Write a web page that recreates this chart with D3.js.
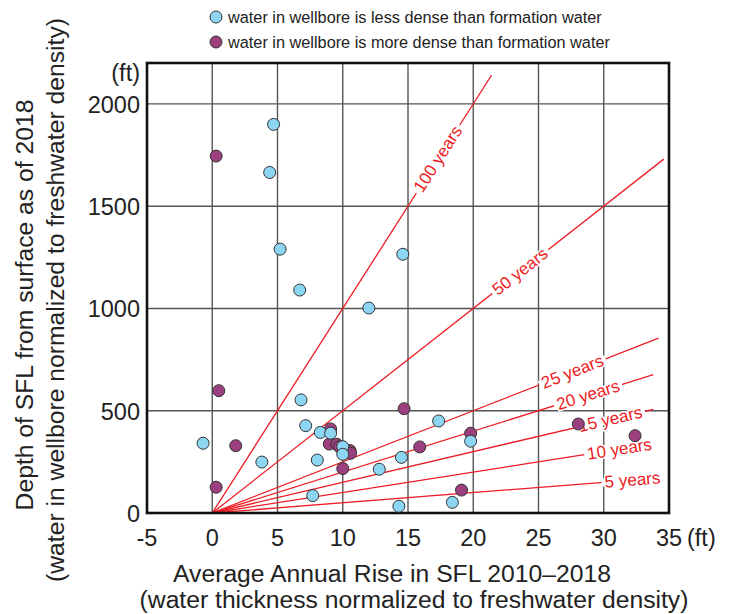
<!DOCTYPE html>
<html>
<head>
<meta charset="utf-8">
<script src="https://cdn.jsdelivr.net/npm/d3@7"></script>
<style>
  body { margin: 0; background: #fff; }
  svg { display: block; font-family: "Liberation Sans", Arial, sans-serif; }
</style>
</head>
<body>
<svg id="chart" width="729" height="614"></svg>
<script>
// ---- data ----
const lessDenseX = [4.7, 4.4, 5.2, 6.7, 14.6, 12.0, 6.8, -0.7, 7.16, 8.28, 9.07, 10.0, 10.0, 8.05, 3.8, 12.8, 14.5, 7.7, 14.3, 17.35, 19.8, 18.4];
const lessDenseY = [1900, 1665, 1290, 1090, 1265, 1002, 553, 341, 427, 394, 390, 324, 287, 259, 249, 214, 272, 85, 33, 450, 351, 52];
const moreDenseX = [0.3, 0.5, 1.8, 0.3, 9.07, 8.97, 9.54, 9.74, 10.56, 10.6, 10.0, 14.7, 15.9, 19.8, 19.1, 28.05, 32.4];
const moreDenseY = [1745, 598, 329, 126, 411, 337, 336, 324, 305, 292, 217, 510, 323, 390, 112, 435, 378];
const yearValues = [100, 50, 25, 20, 15, 10, 5];
const yearLineEndX = [21.4, 34.6, 34.2, 33.8, 33.8, 31.2, 32.2];
const yearLabelX = [17.3, 23.6, 27.6, 28.8, 30.5, 31.2, 32.2];
const xTicks = [-5, 0, 5, 10, 15, 20, 25, 30, 35];
const yTicks = [0, 500, 1000, 1500, 2000];
const legendLabels = ["water in wellbore is less dense than formation water", "water in wellbore is more dense than formation water"];

// ---- layout ----
const svg = d3.select("#chart");
const x = d3.scaleLinear().domain([-5, 35]).range([147, 669]);
const y = d3.scaleLinear().domain([0, 2200]).range([513, 63]);
const RED = "#ed1c24";
const BLUE = "#8cd6f3";
const PURPLE = "#9b3f7e";
const TXT = "#222";

// grid
svg.append("g").selectAll("line").data(xTicks.filter(d => d > -5 && d < 35)).join("line")
  .attr("x1", d => x(d)).attr("x2", d => x(d)).attr("y1", y(0)).attr("y2", y(2200))
  .attr("stroke", "#555").attr("stroke-width", 1.4);
svg.append("g").selectAll("line").data(yTicks.filter(d => d > 0)).join("line")
  .attr("x1", x(-5)).attr("x2", x(35)).attr("y1", d => y(d)).attr("y2", d => y(d))
  .attr("stroke", "#555").attr("stroke-width", 1.4);

// year lines
const lines = svg.append("g");
yearValues.forEach((k, i) => {
  const x1 = yearLineEndX[i];
  lines.append("line")
    .attr("x1", x(0)).attr("y1", y(0)).attr("x2", x(x1)).attr("y2", y(k * x1))
    .attr("stroke", RED).attr("stroke-width", 1.3);
});
yearValues.forEach((k, i) => {
  const xc = yearLabelX[i];
  const ang = Math.atan2(y(k * 10) - y(0), x(10) - x(0)) * 180 / Math.PI;
  const g = lines.append("g").attr("transform", `translate(${x(xc)},${y(k * xc)}) rotate(${ang})`);
  const t = g.append("text").text(k + " years")
    .attr("text-anchor", "middle").attr("dominant-baseline", "central")
    .attr("font-size", 17).attr("fill", RED);
  const w = t.node().getComputedTextLength();
  g.insert("rect", "text").attr("x", -w / 2 - 3).attr("y", -4).attr("width", w + 6).attr("height", 8).attr("fill", "#fff");
  t.attr("stroke", "#fff").attr("stroke-width", 3).attr("paint-order", "stroke");
});

// frame
svg.append("rect").attr("x", x(-5)).attr("y", y(2200)).attr("width", x(35) - x(-5)).attr("height", y(0) - y(2200))
  .attr("fill", "none").attr("stroke", "#111").attr("stroke-width", 2.6);

// points
function dots(xs, ys, fill) {
  svg.append("g").selectAll("circle").data(xs.map((v, i) => [v, ys[i]])).join("circle")
    .attr("cx", d => x(d[0])).attr("cy", d => y(d[1])).attr("r", 6)
    .attr("fill", fill).attr("stroke", "#333").attr("stroke-width", 1);
}
dots(moreDenseX, moreDenseY, PURPLE);
dots(lessDenseX, lessDenseY, BLUE);

// axes ticks text
svg.append("g").selectAll("text").data(xTicks).join("text")
  .attr("x", d => x(d)).attr("y", 546).attr("text-anchor", "middle")
  .attr("font-size", 23.5).attr("fill", TXT).text(d => d);
svg.append("g").selectAll("text").data(yTicks).join("text")
  .attr("x", 140).attr("y", d => y(d) + 9).attr("text-anchor", "end")
  .attr("font-size", 23.5).attr("fill", TXT).text(d => d);
svg.append("text").attr("x", 687).attr("y", 546).attr("font-size", 23.5).attr("fill", TXT).text("(ft)");
svg.append("text").attr("x", 140).attr("y", 81).attr("text-anchor", "end").attr("font-size", 23.5).attr("fill", TXT).text("(ft)");

// axis titles
const TF = 24.7;
svg.append("text").attr("x", 392).attr("y", 582).attr("text-anchor", "middle").attr("font-size", TF).attr("fill", TXT)
  .text("Average Annual Rise in SFL 2010–2018");
svg.append("text").attr("x", 414).attr("y", 608).attr("text-anchor", "middle").attr("font-size", TF).attr("fill", TXT)
  .text("(water thickness normalized to freshwater density)");
svg.append("text").attr("transform", "translate(33,305) rotate(-90)").attr("text-anchor", "middle").attr("font-size", TF).attr("fill", TXT)
  .text("Depth of SFL from surface as of 2018");
svg.append("text").attr("transform", "translate(64,300) rotate(-90)").attr("text-anchor", "middle").attr("font-size", TF).attr("fill", TXT)
  .text("(water in wellbore normalized to freshwater density)");

// legend
const legendColors = [BLUE, PURPLE];
legendLabels.forEach((lab, i) => {
  const ly = 17 + i * 25;
  svg.append("circle").attr("cx", 216).attr("cy", ly).attr("r", 6).attr("fill", legendColors[i]).attr("stroke", "#333").attr("stroke-width", 1);
  svg.append("text").attr("x", 228).attr("y", ly + 6).attr("font-size", 16.3).attr("fill", TXT).text(lab);
});
</script>
</body>
</html>
